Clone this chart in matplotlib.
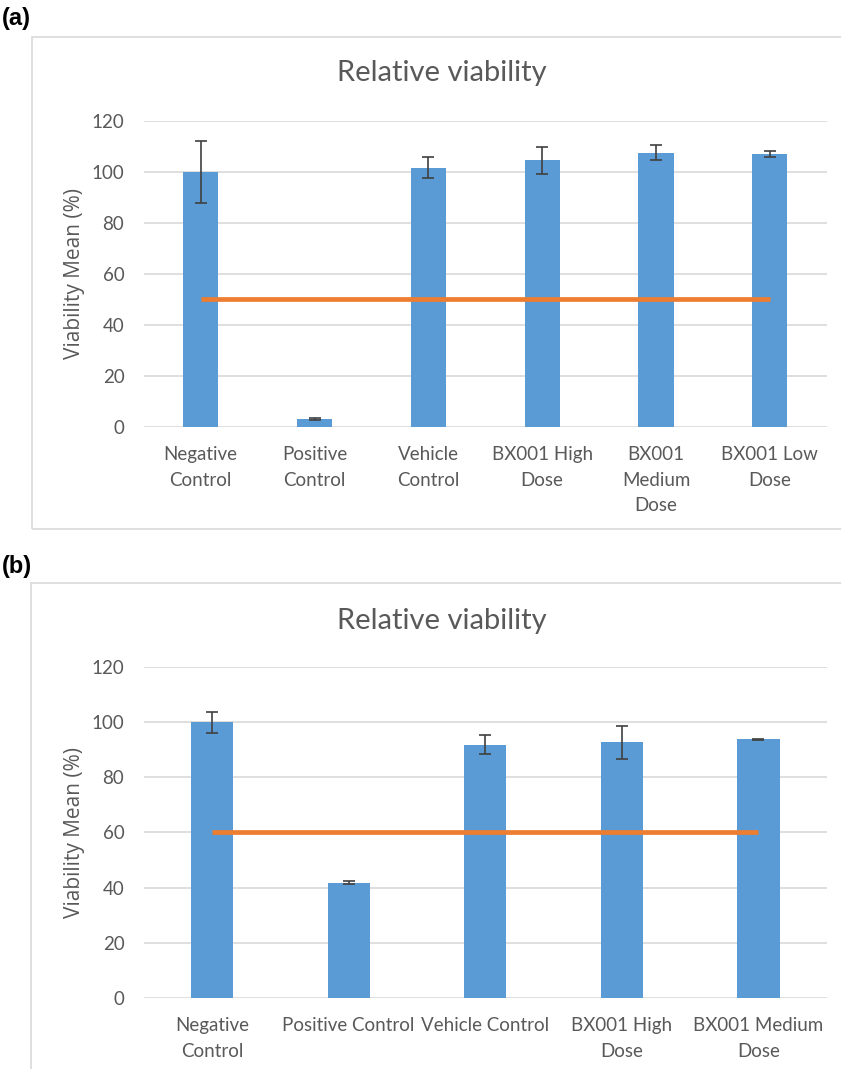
import matplotlib.pyplot as plt
from matplotlib.patches import Rectangle


labels_a = ["Negative\nControl", "Positive\nControl", "Vehicle\nControl",
            "BX001 High\nDose", "BX001\nMedium\nDose", "BX001 Low\nDose"]
means_a = [100.0, 3.2, 101.7, 104.6, 107.6, 107.2]
errs_a = [12.0, 0.5, 4.0, 5.3, 2.8, 1.2]
threshold_a = 50

labels_b = ["Negative\nControl", "Positive Control", "Vehicle Control",
            "BX001 High\nDose", "BX001 Medium\nDose"]
means_b = [100.0, 41.8, 91.8, 92.6, 93.8]
errs_b = [3.8, 0.5, 3.4, 6.1, 0.2]
threshold_b = 60

BAR = "#5B9BD5"
ORANGE = "#ED7D31"
GRID = "#D9D9D9"
TEXT = "#595959"
FONT = "Lato"


def draw_panel(fig, rect, labels, means, errs, threshold, title_y):
    ax = fig.add_axes(rect)
    x = list(range(len(labels)))
    ax.bar(x, means, width=0.31, color=BAR, zorder=2)
    ax.errorbar(x, means, yerr=errs, fmt="none", ecolor="#404040",
                elinewidth=1.2, capsize=4, capthick=1.2, zorder=3)
    ax.plot([x[0], x[-1]], [threshold, threshold], color=ORANGE, lw=3.4,
            solid_capstyle="butt", zorder=4)
    ax.set_xlim(-0.5, len(labels) - 0.5)
    ax.set_ylim(0, 120)
    ax.set_yticks(range(0, 121, 20))
    ax.yaxis.grid(True, color=GRID, lw=1.2, zorder=0)
    ax.set_axisbelow(True)
    for s in ax.spines.values():
        s.set_visible(False)
    ax.tick_params(length=0, colors=TEXT)
    ax.tick_params(axis="y", pad=14)
    ax.tick_params(axis="x", pad=14)
    ax.set_xticks(x)
    ax.set_xticklabels(labels, fontsize=13.5, family=FONT, color=TEXT,
                       linespacing=1.6)
    for t in ax.get_yticklabels():
        t.set_fontsize(13.5)
        t.set_family(FONT)
        t.set_color(TEXT)
    ax.set_ylabel("Viability Mean (%)", fontsize=15, family="Open Sans",
                  color=TEXT)
    ax.yaxis.set_label_coords(-0.086, 0.5)
    fig.text(0.525, title_y, "Relative viability", ha="center", va="center",
             fontsize=21, family=FONT, color=TEXT)
    return ax


fig = plt.figure(figsize=(8.41, 10.69), dpi=100)

# light grey chart frames
fig.patches.append(Rectangle((32 / 841, 1 - 529 / 1069), 0.99, 492 / 1069,
                             transform=fig.transFigure, fill=False,
                             edgecolor=GRID, lw=1.2))
fig.patches.append(Rectangle((31 / 841, -0.01), 0.99, 1 - 583 / 1069 + 0.01,
                             transform=fig.transFigure, fill=False,
                             edgecolor=GRID, lw=1.2))

draw_panel(fig, [0.171, 0.6006, 0.812, 0.2862], labels_a, means_a, errs_a,
           threshold_a, 1 - 73 / 1069)
draw_panel(fig, [0.171, 0.0666, 0.812, 0.3095], labels_b, means_b, errs_b,
           threshold_b, 1 - 621 / 1069)

fig.text(0.002, 1 - 18 / 1069, "(a)", fontsize=17, fontweight="bold",
         family="Liberation Sans", va="center")
fig.text(0.002, 1 - 566 / 1069, "(b)", fontsize=17, fontweight="bold",
         family="Liberation Sans", va="center")

fig.savefig("out.png", dpi=100)
